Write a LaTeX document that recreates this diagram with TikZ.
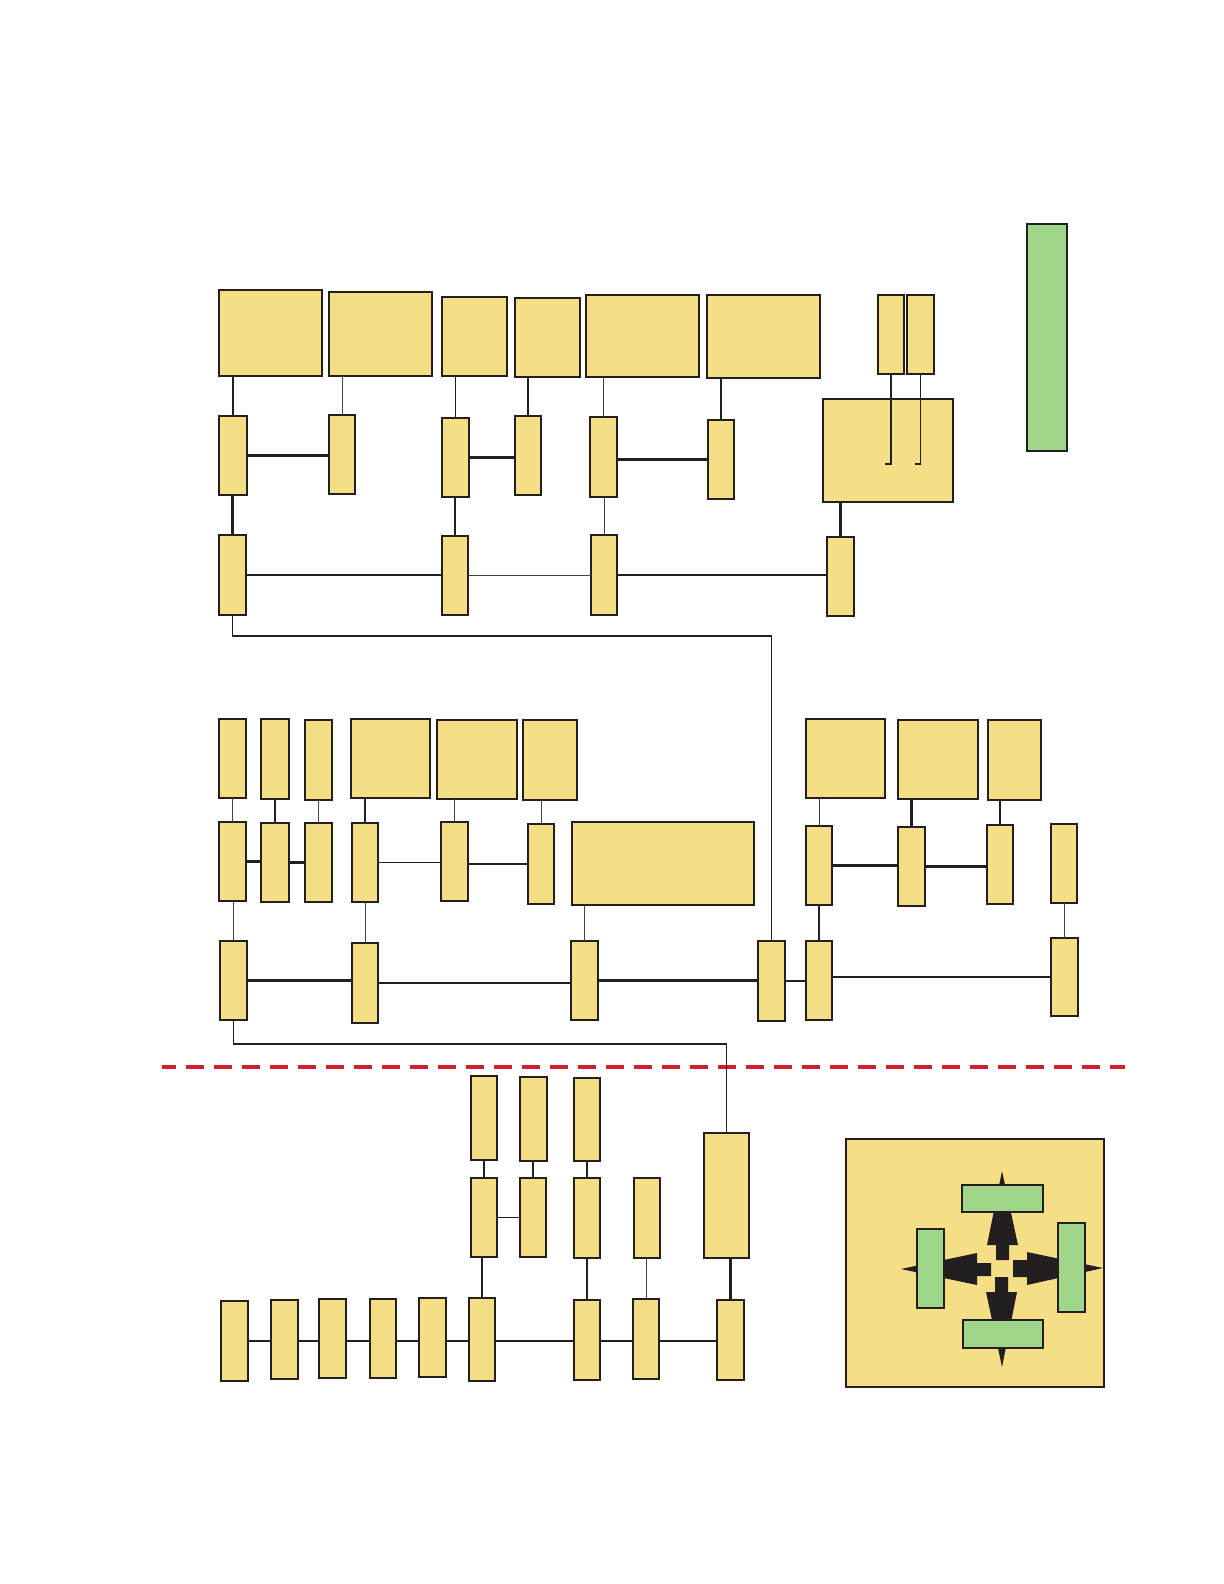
\documentclass[tikz,border=0pt]{standalone}
\usetikzlibrary{fit}
\definecolor{yel}{HTML}{F5DF86}
\definecolor{grn}{HTML}{A1D58A}
\definecolor{ink}{HTML}{231F20}
\definecolor{dashred}{HTML}{D0202E}
\newcommand\bx[6][yb]{\node[#1, fit={(#3,#4) (#5,#6)}] (#2) {};}
\begin{document}
\begin{tikzpicture}[x=0.5pt,y=-0.5pt,
  yb/.style={draw=ink, fill=yel, line width=0.7pt, inner sep=0pt, outer sep=0pt},
  gb/.style={draw=ink, fill=grn, line width=0.7pt, inner sep=0pt, outer sep=0pt},
  sq/.style={draw=ink, fill=yel, line width=1.1pt, inner sep=0pt, outer sep=0pt},
  thk/.style={draw=ink, line width=1.3pt},
  med/.style={draw=ink, line width=0.9pt},
  thn/.style={draw=ink!85, line width=0.5pt},
  arw/.style={fill=ink, draw=none}]
\useasboundingbox[fill=white] (0,0) rectangle (1224,1584);

% ---------------- top section ----------------
\bx{A1}{219}{290}{322}{376}
\bx{A2}{329}{292}{432}{376}
\bx{A3}{442}{297}{507}{376}
\bx{A4}{515}{298}{580}{377}
\bx{A5}{586}{295}{699}{377}
\bx{A6}{707}{295}{820}{378}
\bx{A7}{878}{295}{904}{374}
\bx{A8}{907}{295}{934}{374}
\bx{B}{823}{399}{953}{502}
\bx[gb]{G}{1027}{224}{1067}{451}

\bx{M1}{219}{416}{247}{495}
\bx{M2}{329}{415}{355}{494}
\bx{M3}{442}{418}{469}{497}
\bx{M4}{515}{416}{541}{495}
\bx{M5}{590}{417}{617}{497}
\bx{M6}{708}{420}{734}{499}

\bx{C1}{219}{535}{246}{615}
\bx{C2}{442}{536}{468}{615}
\bx{C3}{591}{535}{617}{615}
\bx{C4}{827}{537}{854}{616}

\draw[thk] (M1.north) -- (M1.north |- A1.south);
\draw[thn] (M2.north) -- (M2.north |- A2.south);
\draw[med] (M3.north) -- (M3.north |- A3.south);
\draw[med] (M4.north) -- (M4.north |- A4.south);
\draw[thn] (M5.north) -- (M5.north |- A5.south);
\draw[thk] (M6.north) -- (M6.north |- A6.south);
\draw[thk] (M1.east) -- (M1.east -| M2.west);
\draw[thk] (M3.east) -- (M3.east -| M4.west);
\draw[thk] (M6.west -| M5.east) -- (M6.west);
\draw[thk] (C1.north) -- (C1.north |- M1.south);
\draw[thk] (C2.north) -- (C2.north |- M3.south);
\draw[thn] (C3.north) -- (C3.north |- M5.south);
\draw[thk] (C1.east) -- (C1.east -| C2.west);
\draw[thn] (C2.east) -- (C2.east -| C3.west);
\draw[thk] (C3.east) -- (C3.east -| C4.west);
\draw[thk] (C4.north) -- (C4.north |- B.south);
\draw[med] (A7.south) -- ++(0,90) -- ++(-6,0);
\draw[med] (A8.south) -- ++(0,90) -- ++(-6,0);

% ---------------- middle section ----------------
\bx{N1}{219}{719}{246}{798}
\bx{N2}{261}{719}{289}{799}
\bx{N3}{305}{720}{332}{800}
\bx{N4}{351}{719}{430}{798}
\bx{N5}{437}{720}{517}{799}
\bx{N6}{523}{720}{577}{800}
\bx{N7}{806}{719}{885}{798}
\bx{N8}{898}{720}{978}{799}
\bx{N9}{988}{720}{1041}{800}

\bx{P1}{219}{822}{246}{901}
\bx{P2}{261}{823}{289}{902}
\bx{P3}{305}{823}{332}{902}
\bx{P4}{352}{823}{378}{902}
\bx{P5}{441}{822}{468}{901}
\bx{P6}{528}{824}{554}{904}
\bx{P7}{572}{822}{754}{905}
\bx{P8}{806}{826}{832}{905}
\bx{P9}{898}{827}{925}{906}
\bx{P10}{987}{825}{1013}{904}
\bx{P11}{1051}{824}{1077}{903}

\bx{Q1}{220}{941}{247}{1020}
\bx{Q2}{352}{943}{378}{1023}
\bx{Q3}{571}{941}{598}{1020}
\bx{Q4}{758}{941}{785}{1021}
\bx{Q5}{806}{941}{832}{1020}
\bx{Q6}{1051}{938}{1078}{1016}

\draw[thn] (P1.north) -- (P1.north |- N1.south);
\draw[med] (P2.north) -- (P2.north |- N2.south);
\draw[thn] (P3.north) -- (P3.north |- N3.south);
\draw[thk] (P4.north) -- (P4.north |- N4.south);
\draw[thn] (P5.north) -- (P5.north |- N5.south);
\draw[thn] (P6.north) -- (P6.north |- N6.south);
\draw[thn] (P8.north) -- (P8.north |- N7.south);
\draw[thk] (P9.north) -- (P9.north |- N8.south);
\draw[thk] (P10.north) -- (P10.north |- N9.south);
\draw[thk] (P1.east) -- (P1.east -| P2.west);
\draw[thk] (P2.east) -- (P2.east -| P3.west);
\draw[med] (P4.east) -- (P4.east -| P5.west);
\draw[med] (P6.west -| P5.east) -- (P6.west);
\draw[thk] (P8.east) -- (P8.east -| P9.west);
\draw[thk] (P9.east) -- (P9.east -| P10.west);
\draw[thn] (Q1.north) -- (Q1.north |- P1.south);
\draw[thn] (Q2.north) -- (Q2.north |- P4.south);
\draw[thn] (Q3.north) -- (Q3.north |- P7.south);
\draw[med] (Q5.north) -- (Q5.north |- P8.south);
\draw[thn] (Q6.north) -- (Q6.north |- P11.south);
\draw[thk] (Q1.east) -- (Q1.east -| Q2.west);
\draw[med] (Q2.east) -- (Q2.east -| Q3.west);
\draw[thk] (Q3.east) -- (Q3.east -| Q4.west);
\draw[thk] (Q4.east) -- (Q4.east -| Q5.west);
\draw[thk] (Q6.west -| Q5.east) -- (Q6.west);

% route from top section to middle section
\draw[med] (C1.south) -- ++(0,21) -| (Q4.north);

% ---------------- separator ----------------
\draw[dashred, line width=2pt, dash pattern=on 9pt off 5pt, dash phase=2pt] (162,1067) -- (1125,1067);

% ---------------- bottom section ----------------
\bx{S1}{471}{1076}{497}{1160}
\bx{S2}{520}{1077}{547}{1161}
\bx{S3}{574}{1078}{600}{1161}
\bx{T1}{471}{1178}{497}{1257}
\bx{T2}{520}{1178}{546}{1257}
\bx{T3}{574}{1178}{600}{1258}
\bx{T4}{634}{1178}{660}{1258}
\bx{R}{704}{1133}{749}{1258}

\bx{U1}{221}{1301}{248}{1381}
\bx{U2}{271}{1300}{298}{1379}
\bx{U3}{319}{1299}{346}{1378}
\bx{U4}{370}{1299}{396}{1378}
\bx{U5}{419}{1298}{446}{1377}
\bx{U6}{469}{1298}{495}{1381}
\bx{U7}{574}{1300}{600}{1380}
\bx{U8}{633}{1299}{659}{1379}
\bx{U9}{717}{1300}{744}{1380}

\draw[med] (T1.north) -- (T1.north |- S1.south);
\draw[thk] (T2.north) -- (T2.north |- S2.south);
\draw[med] (T3.north) -- (T3.north |- S3.south);
\draw[med] (T1.east) -- (T1.east -| T2.west);
\draw[thk] (U6.north) -- (U6.north |- T1.south);
\draw[thk] (U7.north) -- (U7.north |- T3.south);
\draw[thn] (U8.north) -- (U8.north |- T4.south);
\draw[thk] (U9.north) -- (U9.north |- R.south);
\draw[thk] (U1.east) -- (U1.east -| U2.west);
\draw[med] (U2.east |- U1.east) -- (U3.west |- U1.east);
\draw[thk] (U3.east |- U1.east) -- (U4.west |- U1.east);
\draw[med] (U4.east |- U1.east) -- (U5.west |- U1.east);
\draw[thk] (U5.east |- U1.east) -- (U6.west |- U1.east);
\draw[thk] (U6.east |- U1.east) -- (U7.west |- U1.east);
\draw[thk] (U7.east |- U1.east) -- (U8.west |- U1.east);
\draw[thk] (U8.east |- U1.east) -- (U9.west |- U1.east);

% route from middle section to bottom section
\draw[med] (Q1.south) -- ++(0,24) -| (R.north);

% ---------------- legend square ----------------
\bx[sq]{SQ}{846}{1139}{1104}{1387}
% arrows (behind the green bars)
\fill[arw] (996,1260) -- (996,1245) -- (987,1245) -- (1002,1171) -- (1018,1245) -- (1009,1245) -- (1009,1260) -- cycle;
\fill[arw] (995,1277) -- (995,1292) -- (986,1292) -- (1002,1367) -- (1017,1292) -- (1008,1292) -- (1008,1277) -- cycle;
\fill[arw] (991,1263) -- (977,1263) -- (977,1253) -- (901,1269) -- (977,1285) -- (977,1276) -- (991,1276) -- cycle;
\fill[arw] (1013,1260) -- (1027,1260) -- (1027,1252) -- (1103,1268) -- (1027,1285) -- (1027,1277) -- (1013,1277) -- cycle;
\bx[gb]{Gt}{962}{1185}{1043}{1212}
\bx[gb]{Gb}{963}{1320}{1043}{1348}
\bx[gb]{Gl}{917}{1229}{944}{1308}
\bx[gb]{Gr}{1058}{1223}{1085}{1312}
\end{tikzpicture}
\end{document}
